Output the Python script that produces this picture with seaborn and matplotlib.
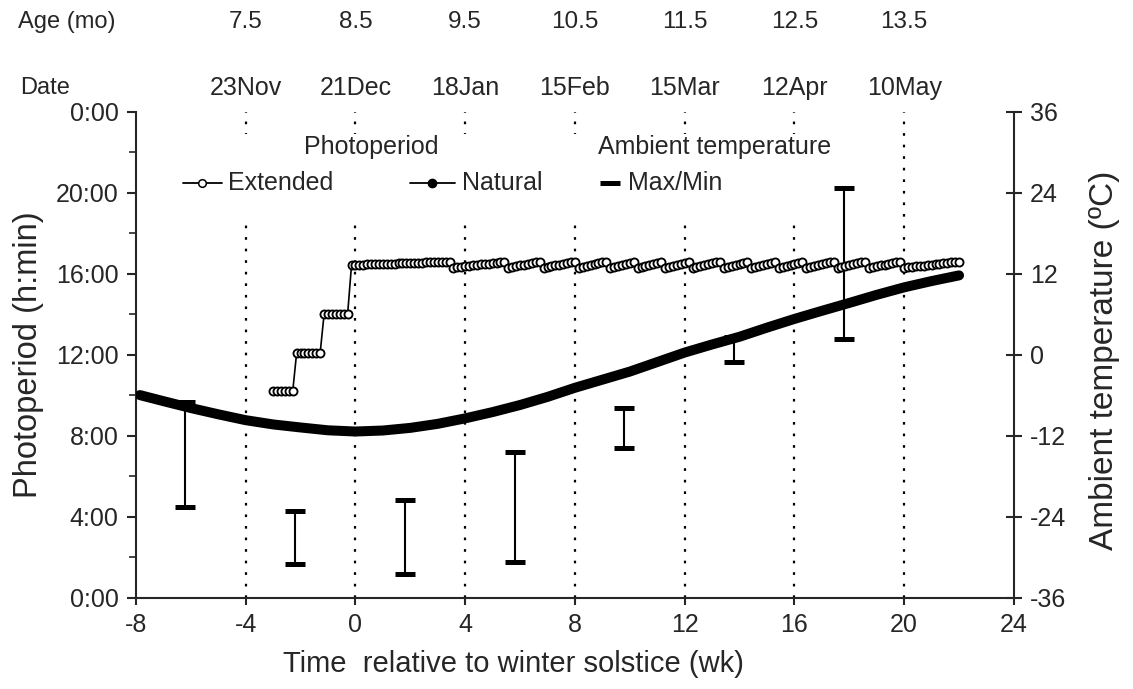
import numpy as np
import matplotlib
matplotlib.use('Agg')
import matplotlib.pyplot as plt
from matplotlib.patches import Rectangle
from matplotlib.lines import Line2D
import seaborn as sns

# Natural photoperiod (h)
nat_weeks = [-7.86, -7, -6, -5, -4, -3, -2, -1, 0, 1, 2, 3, 4, 5, 6, 7, 8,
             9, 10, 11, 12, 13, 14, 15, 16, 17, 18, 19, 20, 21, 22]
nat_hours = [10.02, 9.72, 9.38, 9.07, 8.78, 8.57, 8.42, 8.28, 8.22, 8.27, 8.40,
             8.60, 8.87, 9.18, 9.53, 9.93, 10.38, 10.78, 11.18, 11.65, 12.12,
             12.52, 12.90, 13.35, 13.78, 14.18, 14.57, 14.97, 15.34, 15.65, 15.93]

# Extended photoperiod (h), one value per day starting at day -21
ext_first_day = -21
ext_hours = [
    10.22, 10.22, 10.22, 10.22, 10.22, 10.22,
    12.11, 12.11, 12.11, 12.11, 12.11, 12.11, 12.11,
    14.02, 14.02, 14.02, 14.02, 14.02, 14.02, 14.02,
    16.44, 16.45, 16.45, 16.46, 16.47, 16.47, 16.48, 16.49, 16.49, 16.50, 16.51, 16.51, 16.52,
    16.53, 16.53, 16.54, 16.55, 16.55, 16.56, 16.57, 16.57, 16.58, 16.59, 16.59, 16.60, 16.61,
    16.30, 16.32, 16.35, 16.37, 16.40, 16.42, 16.44, 16.47, 16.49, 16.51, 16.54, 16.56, 16.59, 16.61,
    16.30, 16.34, 16.38, 16.42, 16.45, 16.49, 16.53, 16.57, 16.61,
    16.30, 16.34, 16.38, 16.42, 16.45, 16.49, 16.53, 16.57, 16.61,
    16.30, 16.34, 16.39, 16.43, 16.48, 16.52, 16.57, 16.61,
    16.30, 16.35, 16.40, 16.46, 16.51, 16.56, 16.61,
    16.30, 16.35, 16.40, 16.46, 16.51, 16.56, 16.61,
    16.30, 16.35, 16.40, 16.46, 16.51, 16.56, 16.61,
    16.30, 16.34, 16.39, 16.43, 16.48, 16.52, 16.57, 16.61,
    16.30, 16.35, 16.40, 16.46, 16.51, 16.56, 16.61,
    16.30, 16.35, 16.40, 16.46, 16.51, 16.56, 16.61,
    16.30, 16.35, 16.40, 16.46, 16.51, 16.56, 16.61,
    16.30, 16.34, 16.39, 16.43, 16.48, 16.52, 16.57, 16.61,
    16.30, 16.34, 16.39, 16.43, 16.48, 16.52, 16.57, 16.61,
    16.30, 16.34, 16.38, 16.42, 16.45, 16.49, 16.53, 16.57, 16.61,
    16.30, 16.32, 16.34, 16.37, 16.39, 16.41, 16.43, 16.46, 16.48, 16.50, 16.52, 16.54, 16.57, 16.59, 16.61,
]
ext_weeks = (np.arange(len(ext_hours)) + ext_first_day) / 7

# Ambient temperature max/min (deg C)
temp_weeks = [-6.2, -2.2, 1.8, 5.8, 9.8, 13.8, 17.8]
temp_max = [-6.9, -23.1, -21.5, -14.3, -7.8, 2.7, 24.8]
temp_min = [-22.5, -31.0, -32.5, -30.7, -13.8, -1.0, 2.3]

# top annotations
line_weeks = [-4, 0, 4, 8, 12, 16, 20]
ages = ['7.5', '8.5', '9.5', '10.5', '11.5', '12.5', '13.5']
dates = ['23Nov', '21Dec', '18Jan', '15Feb', '15Mar', '12Apr', '10May']

x_ticks = [-8, -4, 0, 4, 8, 12, 16, 20, 24]
y_ticks = [0, 4, 8, 12, 16, 20, 24]
y_ticklabels = ['0:00', '4:00', '8:00', '12:00', '16:00', '20:00', '0:00']
t_ticks = [-36, -24, -12, 0, 12, 24, 36]

sns.set_style('ticks')
plt.rcParams['font.family'] = ['Liberation Sans', 'DejaVu Sans']
plt.rcParams['axes.linewidth'] = 1.5
plt.rcParams['axes.unicode_minus'] = False

W, H = 1133, 689
def fx(px):
    return px / W
def fy(py):
    return 1 - py / H

fig = plt.figure(figsize=(11.33, 6.89), dpi=100)
ax = fig.add_axes([0.1200, 0.1321, 0.7749, 0.7054])
ax2 = ax.twinx()
ax.set_zorder(2)
ax2.set_zorder(1)
ax.patch.set_visible(False)

# dotted week lines and white legend backing (bottom layer)
for w in line_weeks:
    ax2.axvline(w, color='black', lw=1.6, linestyle=(0, (1.2, 4.0)), zorder=1)
ax2.add_patch(Rectangle((-6.8, 0.774), 23.7, 0.18, transform=ax2.get_xaxis_transform(),
                        facecolor='white', edgecolor='none', zorder=2))

# temperature bars
mid = [(a + b) / 2 for a, b in zip(temp_max, temp_min)]
half = [(a - b) / 2 for a, b in zip(temp_max, temp_min)]
ax2.errorbar(temp_weeks, mid, yerr=[half, half], fmt='none', ecolor='black',
             elinewidth=1.5, capsize=7, capthick=3.6, zorder=3)

# photoperiods
sns.lineplot(x=nat_weeks, y=nat_hours, ax=ax, color='black', lw=7.2,
             solid_capstyle='round', zorder=4)
sns.lineplot(x=ext_weeks, y=ext_hours, ax=ax, color='black', lw=1.2,
             marker='o', markersize=5.8, markerfacecolor='white',
             markeredgecolor='black', markeredgewidth=1.35, zorder=5)

ax.set_xlim(-8, 24)
ax.set_ylim(0, 24)
ax2.set_ylim(-36, 36)
ax.set_xticks(x_ticks)
ax.set_yticks(y_ticks)
ax.set_yticklabels(y_ticklabels)
ax.set_yticks([2, 6, 10, 14, 18, 22], minor=True)
ax2.set_yticks(t_ticks)
ax.set_xlabel('')
ax.set_ylabel('')

ax.tick_params(axis='y', which='major', direction='out', length=6.5, width=1.5, labelsize=18, pad=6)
ax.tick_params(axis='y', which='minor', direction='out', length=5, width=1.2)
ax.tick_params(axis='x', direction='out', length=5, width=1.5, labelsize=18, pad=6)
ax2.tick_params(axis='y', direction='inout', length=11.5, width=1.5, labelsize=18, pad=6)

for a in (ax, ax2):
    a.spines['top'].set_visible(False)
ax.spines['right'].set_visible(False)
ax2.spines['left'].set_visible(False)
ax2.spines['bottom'].set_visible(False)

fig.text(fx(29), fy(355), 'Photoperiod (h:min)', rotation=90, ha='center', va='center', fontsize=23.5)
fig.text(fx(1104), fy(360), 'Ambient temperature (ºC)', rotation=90, ha='center', va='center', fontsize=24)
fig.text(fx(513), fy(664), 'Time  relative to winter solstice (wk)', ha='center', va='center', fontsize=21)

# age / date rows above the plot
fig.text(fx(18), fy(22), 'Age (mo)', ha='left', va='center', fontsize=17)
fig.text(fx(20), fy(88), 'Date', ha='left', va='center', fontsize=17)
for w, a_lab, d_lab in zip(line_weeks, ages, dates):
    ax.text(w, 1.1852, a_lab, transform=ax.get_xaxis_transform(), ha='center', va='center',
            fontsize=17.5, clip_on=False)
    ax.text(w, 1.0494, d_lab, transform=ax.get_xaxis_transform(), ha='center', va='center',
            fontsize=18, clip_on=False)

# legend, drawn by hand
fig.text(fx(371), fy(147), 'Photoperiod', ha='center', va='center', fontsize=18)
fig.text(fx(715), fy(147), 'Ambient temperature', ha='center', va='center', fontsize=18)
fig.add_artist(Line2D([fx(183), fx(222)], [fy(183), fy(183)], color='black', lw=1.3))
fig.add_artist(Line2D([fx(202)], [fy(183)], color='black', marker='o', markersize=5.5,
                      markerfacecolor='white', markeredgewidth=1.1))
fig.text(fx(228), fy(183), 'Extended', ha='left', va='center', fontsize=18)
fig.add_artist(Line2D([fx(410), fx(455)], [fy(183), fy(183)], color='black', lw=1.3))
fig.add_artist(Line2D([fx(432)], [fy(183)], color='black', marker='o', markersize=6))
fig.text(fx(462), fy(183), 'Natural', ha='left', va='center', fontsize=18)
fig.add_artist(Line2D([fx(600), fx(620)], [fy(183), fy(183)], color='black', lw=3.6,
                      solid_capstyle='butt'))
fig.text(fx(628), fy(183), 'Max/Min', ha='left', va='center', fontsize=18)

fig.savefig('out.png', dpi=100, facecolor='white')
